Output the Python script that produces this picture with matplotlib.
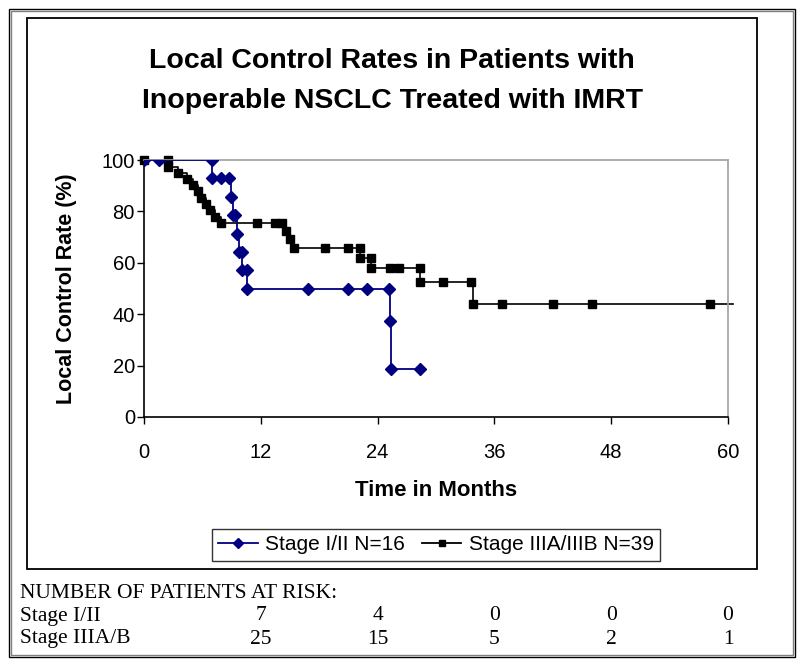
import numpy as np
import matplotlib.pyplot as plt
from matplotlib.patches import Rectangle
from matplotlib.lines import Line2D
import matplotlib.transforms as mtransforms

plt.rcParams['font.family'] = ['Liberation Sans', 'DejaVu Sans']

# Kaplan-Meier points (months, % local control)
stage12_t = [0, 1.5, 7.0, 7.0, 7.9, 8.7, 8.9, 9.1, 9.3, 9.6, 9.8, 10.1, 10.1, 10.6, 10.6,
             16.9, 21.0, 22.9, 25.2, 25.3, 25.4, 28.4]
stage12_s = [100, 100, 100, 92.9, 92.9, 92.9, 85.7, 78.6, 78.6, 71.4, 64.3, 64.3, 57.1, 57.1, 50,
             50, 50, 50, 50, 37.5, 18.75, 18.75]

stage3_t = [0, 2.5, 2.5, 3.5, 4.4, 5.0, 5.5, 5.9, 6.4, 6.8, 7.3, 7.9, 11.6, 13.5, 14.2, 14.6,
            15.0, 15.4, 18.6, 21.0, 22.2, 22.2, 23.3, 23.3, 25.3, 26.2, 28.4, 28.4, 30.7, 33.6,
            33.8, 36.8, 42.0, 46.0, 58.2, 60.5]
stage3_s = [100, 100, 97.4, 95.0, 92.6, 90.2, 87.8, 85.4, 83.0, 80.5, 78.0, 75.5, 75.5, 75.5, 75.5, 72.4,
            69.1, 65.6, 65.6, 65.6, 65.6, 62.0, 62.0, 58.1, 58.1, 58.1, 58.1, 52.6, 52.6, 52.6,
            43.8, 43.8, 43.8, 43.8, 43.8, 43.8]

risk_times = [12, 24, 36, 48, 60]
risk_stage12 = [7, 4, 0, 0, 0]
risk_stage3 = [25, 15, 5, 2, 1]

blue = '#000080'

fig = plt.figure(figsize=(8, 6.63), dpi=100)

def px_rect(x0, y0, x1, y1, **kw):
    r = Rectangle((x0 / 800, 1 - y1 / 663), (x1 - x0) / 800, (y1 - y0) / 663,
                  transform=fig.transFigure, fill=False, **kw)
    fig.patches.append(r)

# outer double frame and chart frame
px_rect(8.5, 8.5, 795, 657, edgecolor='black', linewidth=1.0)
px_rect(10.5, 10.5, 793, 655, edgecolor='#808080', linewidth=1.0)
px_rect(27, 18, 757, 569, edgecolor='black', linewidth=1.3)

ax = fig.add_axes([144 / 800, 1 - 417 / 663, (728 - 144) / 800, (417 - 160) / 663])

ax.plot(stage12_t, stage12_s, drawstyle='steps-post', color=blue, lw=1.3,
        marker='D', markersize=6, markerfacecolor=blue, markeredgecolor=blue,
        label='Stage I/II N=16', zorder=3)
ax.plot(stage3_t, stage3_s, drawstyle='steps-post', color='black', lw=1.2, clip_on=False,
        marker='s', markersize=5.5, markevery=list(range(len(stage3_t) - 1)),
        label='Stage IIIA/IIIB N=39', zorder=2)

ax.set_xlim(0, 60)
ax.set_ylim(0, 100)
ax.set_xticks(np.arange(0, 61, 12))
ax.set_yticks(np.arange(0, 101, 20))
ax.tick_params(axis='both', direction='out', length=5, width=1, labelsize=14.5)
ax.tick_params(axis='x', pad=14)
ax.tick_params(axis='y', pad=1.5)
ax.spines['top'].set_color('#a0a0a0')
ax.spines['right'].set_color('#a0a0a0')
for s in ax.spines.values():
    s.set_linewidth(1.2)

ax.set_xlabel('Time in Months', fontsize=16, fontweight='bold', labelpad=13)
ax.set_ylabel('Local Control Rate (%)', fontsize=15.5, fontweight='bold', labelpad=18)

fig.text(0.49, 1 - 81 / 663, 'Local Control Rates in Patients with\nInoperable NSCLC Treated with IMRT',
         ha='center', va='center', fontsize=20.5, fontweight='bold', linespacing=1.7)

h1 = Line2D([], [], color=blue, lw=1.3, marker='D', markersize=5)
h2 = Line2D([], [], color='black', lw=1.3, marker='s', markersize=5)
leg = fig.legend([h1, h2], ['Stage I/II N=16', 'Stage IIIA/IIIB N=39'], loc='center',
                 bbox_to_anchor=(436 / 800, 1 - 545 / 663), ncol=2, fontsize=15,
                 frameon=True, fancybox=False, edgecolor='black', handlelength=1.9,
                 handletextpad=0.35, columnspacing=0.8, borderpad=0.3)
leg.get_frame().set_linewidth(1.0)

# numbers at risk table
serif = ['Liberation Serif', 'DejaVu Serif']
fig.text(20 / 800, 1 - 593 / 663, 'NUMBER OF PATIENTS AT RISK:', family=serif, fontsize=15.5, va='center')
fig.text(20 / 800, 1 - 616 / 663, 'Stage I/II', family=serif, fontsize=15.5, va='center')
fig.text(20 / 800, 1 - 639 / 663, 'Stage IIIA/B', family=serif, fontsize=15.5, va='center')
trans = mtransforms.blended_transform_factory(ax.transData, fig.transFigure)
for t, a, b in zip(risk_times, risk_stage12, risk_stage3):
    fig.text(t, 1 - 616 / 663, str(a), transform=trans, family=serif, fontsize=15.5, ha='center', va='center')
    fig.text(t, 1 - 639 / 663, str(b), transform=trans, family=serif, fontsize=15.5, ha='center', va='center')

fig.savefig('out.png', dpi=100)
